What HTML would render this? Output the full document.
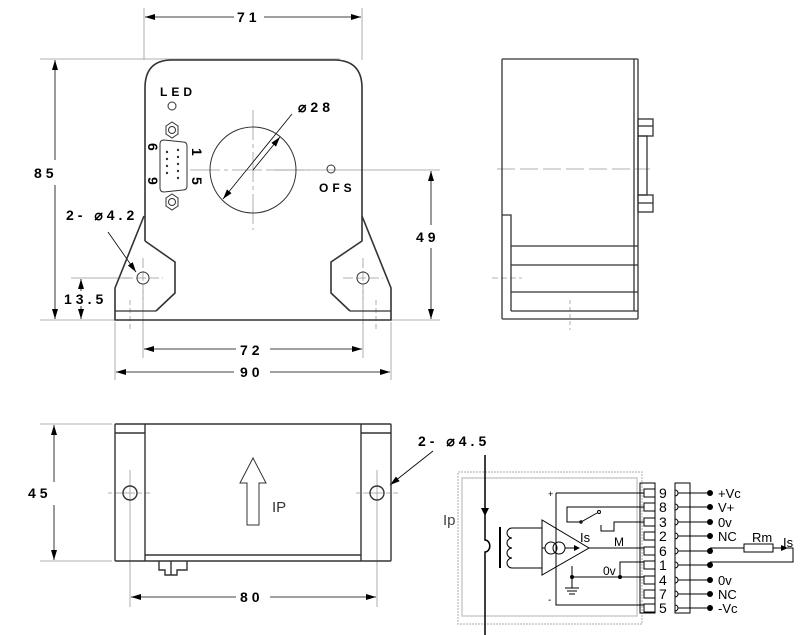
<!DOCTYPE html>
<html><head><meta charset="utf-8"><style>
html,body{margin:0;padding:0;background:#fff;}
svg{display:block;font-family:"Liberation Sans",sans-serif;}
</style></head><body>
<svg width="803" height="635" viewBox="0 0 803 635" xmlns="http://www.w3.org/2000/svg">
<defs>
<marker id="a" markerWidth="10" markerHeight="6" refX="10" refY="3" orient="auto-start-reverse" markerUnits="userSpaceOnUse"><path d="M0,0 L10,3 L0,6 z" fill="#000"/></marker>
</defs>
<g stroke="#999" stroke-width="0.8" fill="none">
<line x1="144" y1="8" x2="144" y2="60"/><line x1="362" y1="8" x2="362" y2="60"/>
<line x1="40" y1="59" x2="340" y2="59"/>
<line x1="40" y1="320" x2="440" y2="320"/>
<line x1="71" y1="278" x2="130" y2="278"/>
<line x1="270" y1="170" x2="440" y2="170"/>
<line x1="115" y1="322" x2="115" y2="380"/><line x1="391" y1="322" x2="391" y2="380"/>
<line x1="143" y1="290" x2="143" y2="358"/><line x1="363" y1="290" x2="363" y2="358"/>
<line x1="253" y1="110" x2="253" y2="230" stroke-dasharray="30,4,4,4"/>
<line x1="190" y1="170" x2="310" y2="170" stroke-dasharray="30,4,4,4"/>
<line x1="143" y1="258" x2="143" y2="300" stroke-dasharray="10,3"/>
<line x1="123" y1="278" x2="163" y2="278" stroke-dasharray="10,3"/>
<line x1="363" y1="258" x2="363" y2="300" stroke-dasharray="10,3"/>
<line x1="343" y1="278" x2="383" y2="278" stroke-dasharray="10,3"/>
<line x1="130" y1="300" x2="130" y2="330" stroke-dasharray="5,3"/>
<line x1="376" y1="300" x2="376" y2="330" stroke-dasharray="5,3"/>
<line x1="497" y1="169" x2="650" y2="169" stroke-dasharray="18,5"/>
<line x1="492" y1="278" x2="522" y2="278" stroke-dasharray="6,3"/>
<line x1="570" y1="300" x2="570" y2="330" stroke-dasharray="4,3"/>
<line x1="40" y1="424" x2="112" y2="424"/><line x1="40" y1="561" x2="112" y2="561"/>
<line x1="130" y1="470" x2="130" y2="607"/><line x1="377" y1="470" x2="377" y2="607"/>
<line x1="108" y1="493" x2="150" y2="493" stroke-dasharray="4,3,20,3"/>
<line x1="356" y1="493" x2="398" y2="493" stroke-dasharray="4,3,20,3"/>
</g>
<g stroke="#000" stroke-width="0.8" fill="none">
<line x1="145" y1="17" x2="234" y2="17" marker-start="url(#a)"/><line x1="264" y1="17" x2="361" y2="17" marker-end="url(#a)"/>
<line x1="55" y1="60" x2="55" y2="160" marker-start="url(#a)"/><line x1="55" y1="185" x2="55" y2="319" marker-end="url(#a)"/>
<line x1="431" y1="171" x2="431" y2="225" marker-start="url(#a)"/><line x1="431" y1="248" x2="431" y2="319" marker-end="url(#a)"/>
<line x1="81" y1="279" x2="81" y2="291" marker-start="url(#a)"/><line x1="81" y1="306" x2="81" y2="319" marker-end="url(#a)"/>
<line x1="144" y1="349" x2="236" y2="349" marker-start="url(#a)"/><line x1="270" y1="349" x2="362" y2="349" marker-end="url(#a)"/>
<line x1="116" y1="372" x2="234" y2="372" marker-start="url(#a)"/><line x1="270" y1="372" x2="390" y2="372" marker-end="url(#a)"/>
<line x1="54" y1="425" x2="54" y2="482" marker-start="url(#a)"/><line x1="54" y1="505" x2="54" y2="560" marker-end="url(#a)"/>
<line x1="131" y1="597" x2="236" y2="597" marker-start="url(#a)"/><line x1="270" y1="597" x2="376" y2="597" marker-end="url(#a)"/>
<line x1="292" y1="114" x2="223" y2="199" marker-end="url(#a)"/><line x1="253" y1="170" x2="280" y2="137" marker-end="url(#a)"/>
<line x1="108" y1="232" x2="136" y2="272" marker-end="url(#a)"/>
<line x1="433" y1="451" x2="390" y2="485" marker-end="url(#a)"/>
</g>
<g font-size="14" font-weight="bold" fill="#000" letter-spacing="4">
<text x="237" y="22">71</text>
<text x="34" y="178">85</text>
<text x="416" y="242">49</text>
<text x="64" y="304">13.5</text>
<text x="240" y="355">72</text>
<text x="240" y="377">90</text>
<text x="28" y="498">45</text>
<text x="240" y="602">80</text>
<text x="298" y="112">⌀28</text>
<text x="66" y="220">2- ⌀4.2</text>
<text x="418" y="446">2- ⌀4.5</text>
<text x="319" y="192" font-size="12">OFS</text>
<text x="160" y="96" font-size="12">LED</text>
</g>
<g stroke="#333" stroke-width="1.6" fill="none">
<path d="M145,241 L145,88 Q145,60 172,60 L334,60 Q362,60 362,88 L362,241 L331,262 L331,293 L350,311"/>
<path d="M145,241 L175,262 L175,293 L156,311"/>
<path d="M144,216 L115,288 L115,320 L391,320 L391,288 L362,216"/>
<path d="M115,311 L156,311 M350,311 L391,311" stroke-width="1.2"/>
</g>
<g stroke="#333" stroke-width="1" fill="none">
<circle cx="253" cy="170" r="43"/>
<circle cx="143" cy="278" r="6"/><circle cx="363" cy="278" r="6"/>
<circle cx="172" cy="106" r="4"/><circle cx="331" cy="169" r="4"/>
<polygon points="166,126 172,122 178,126 178,134 172,138 166,134"/><circle cx="172" cy="130" r="3.5"/>
<polygon points="166,198 172,194 178,198 178,206 172,210 166,206"/><circle cx="172" cy="202" r="3.5"/>
<path d="M160,144 Q160,140 164,140 L183,142 Q187,142 187,146 L187,186 Q187,190 183,190 L164,192 Q160,192 160,188 Z"/>
</g>
<g fill="#333">
<circle cx="167" cy="152" r="1.2"/><circle cx="167" cy="159" r="1.2"/><circle cx="167" cy="166" r="1.2"/><circle cx="167" cy="173" r="1.2"/>
<circle cx="178" cy="150" r="1.2"/><circle cx="178" cy="157" r="1.2"/><circle cx="178" cy="164" r="1.2"/><circle cx="178" cy="171" r="1.2"/><circle cx="178" cy="178" r="1.2"/>
</g>
<g font-size="14" font-weight="bold" fill="#000">
<text x="192" y="148" transform="rotate(90 192 148)">1</text>
<text x="192" y="177" transform="rotate(90 192 177)">5</text>
<text x="148" y="143" transform="rotate(90 148 143)">6</text>
<text x="148" y="177" transform="rotate(90 148 177)">9</text>
</g>
<g stroke="#333" stroke-width="1.3" fill="none">
<rect x="502" y="59" width="136" height="260" rx="1"/>
<line x1="634" y1="59" x2="634" y2="311"/>
<line x1="511" y1="311" x2="638" y2="311"/>
<path d="M502,215 L511,215 L511,311"/>
<line x1="511" y1="246" x2="638" y2="246"/>
<line x1="511" y1="265" x2="638" y2="265"/>
<line x1="511" y1="292" x2="638" y2="292"/>
<rect x="638" y="119" width="15" height="17"/><line x1="638" y1="126" x2="653" y2="126"/>
<rect x="638" y="195" width="15" height="17"/><line x1="638" y1="203" x2="653" y2="203"/>
<rect x="638" y="136" width="9" height="59"/>
</g>
<g stroke="#333" stroke-width="1.4" fill="none">
<rect x="115" y="424" width="276" height="137" rx="1"/>
<line x1="145" y1="424" x2="145" y2="561"/><line x1="361" y1="424" x2="361" y2="561"/>
<line x1="115" y1="433" x2="145" y2="433"/><line x1="361" y1="433" x2="391" y2="433"/>
<line x1="145" y1="555" x2="361" y2="555"/>
<circle cx="130" cy="493" r="7"/><circle cx="377" cy="493" r="7"/>
<path d="M159,561 L159,570 L165,570 L165,575 L177,575 L177,570 L187,570 L187,561"/>
<line x1="171" y1="561" x2="171" y2="575"/>
<path d="M247,525 L247,483 L240,483 L253,458 L266,483 L259,483 L259,525 Z" stroke-width="1"/>
</g>
<text x="272" y="512" font-size="15" fill="#333">IP</text>
<g fill="none">
<rect x="458" y="472" width="184" height="152" stroke="#bbb" stroke-width="1.2" stroke-dasharray="2,1"/>
<rect x="462" y="478" width="175" height="138" stroke="#ccc" stroke-width="1.5"/>
</g>
<g stroke="#000" stroke-width="1" fill="none">
<path d="M485,455 L485,540 A4,5 0 0 1 485,552 L485,635" stroke-width="1.5"/>
<line x1="500" y1="527" x2="500" y2="568" stroke-width="2"/>
<path d="M542,528 L512,528 A5,5 0 0 0 512,538 A5,5 0 0 0 512,548 A5,5 0 0 0 512,558 A5,5 0 0 0 512,568 L542,568"/>
<polygon points="542,520 542,575 589,548"/>
<circle cx="551" cy="548" r="6"/><circle cx="559" cy="548" r="6"/>
<line x1="542" y1="548" x2="545" y2="548"/><line x1="565" y1="548" x2="578" y2="548"/>
<line x1="589" y1="548" x2="644" y2="548"/>
<path d="M556,493 L556,605 L644,605"/>
<line x1="556" y1="493" x2="644" y2="493"/>
<path d="M644,507 L567,507 L567,522 L581,522 L597,513"/>
<circle cx="599" cy="512" r="1.5"/><circle cx="581" cy="522" r="1.2"/>
<path d="M644,522 L614,522 L614,531 L601,531 L601,525"/>
<path d="M572,566 L572,577 L644,577"/>
<path d="M620,577 L620,562 L644,562"/>
<line x1="572" y1="577" x2="572" y2="588"/>
<line x1="565" y1="588" x2="579" y2="588"/><line x1="567" y1="591" x2="577" y2="591"/><line x1="569" y1="594" x2="575" y2="594"/>
<rect x="640" y="483" width="15" height="130"/>
<rect x="675" y="483" width="15" height="130"/>
<path d="M710,548 L744,548 M773,548 L793,548 L793,562 L710,562"/>
<rect x="744" y="544" width="29" height="8"/>
</g>
<polygon points="485,516 481,508 489,508" fill="#000"/>
<polygon points="580,548 574,545 574,551" fill="#000"/>
<polygon points="788,548 781,545 781,551" fill="#000"/>
<circle cx="572" cy="577" r="2" fill="#000"/><circle cx="620" cy="577" r="2" fill="#000"/>
<g stroke="#000" stroke-width="1" fill="none">
<rect x="644" y="489" width="11" height="8"/><rect x="644" y="503" width="11" height="8"/><rect x="644" y="518" width="11" height="8"/>
<rect x="644" y="532" width="11" height="8"/><rect x="644" y="547" width="11" height="8"/><rect x="644" y="561" width="11" height="8"/>
<rect x="644" y="576" width="11" height="8"/><rect x="644" y="590" width="11" height="8"/><rect x="644" y="604" width="11" height="8"/>
<path d="M675,490 A3,3 0 0 1 675,496 M675,504 A3,3 0 0 1 675,510 M675,519 A3,3 0 0 1 675,525 M675,533 A3,3 0 0 1 675,539 M675,548 A3,3 0 0 1 675,554 M675,562 A3,3 0 0 1 675,568 M675,577 A3,3 0 0 1 675,583 M675,591 A3,3 0 0 1 675,597 M675,605 A3,3 0 0 1 675,611"/>
<path d="M678,493 L710,493 M678,507 L710,507 M678,522 L710,522 M678,536 L710,536 M678,551 L710,551 M678,565 L710,565 M678,580 L710,580 M678,594 L710,594 M678,608 L710,608"/>
</g>
<g fill="#000">
<circle cx="710" cy="493" r="3"/><circle cx="710" cy="507" r="3"/><circle cx="710" cy="522" r="3"/><circle cx="710" cy="536" r="3"/><circle cx="710" cy="551" r="3"/><circle cx="710" cy="565" r="3"/><circle cx="710" cy="580" r="3"/><circle cx="710" cy="594" r="3"/><circle cx="710" cy="608" r="3"/>
</g>
<g font-size="14" fill="#000">
<text x="659" y="498">9</text><text x="659" y="512">8</text><text x="659" y="527">3</text><text x="659" y="541">2</text><text x="659" y="556">6</text><text x="659" y="570">1</text><text x="659" y="585">4</text><text x="659" y="599">7</text><text x="659" y="613">5</text>
<text x="718" y="498" font-size="13">+Vc</text><text x="718" y="512" font-size="13">V+</text><text x="718" y="527" font-size="13">0v</text><text x="718" y="541" font-size="13">NC</text>
<text x="718" y="585" font-size="13">0v</text><text x="718" y="599" font-size="13">NC</text><text x="718" y="613" font-size="13">-Vc</text>
<text x="752" y="542" font-size="13">Rm</text><text x="783" y="547" font-size="13">Is</text>
<text x="614" y="546" font-size="12">M</text><text x="580" y="542" font-size="13">Is</text>
<text x="603" y="575" font-size="12">0v</text>
<text x="548" y="497" font-size="9">+</text><text x="548" y="603" font-size="10">-</text>
<text x="443" y="525" font-size="15" fill="#444">Ip</text>
</g>
</svg>
</body></html>
